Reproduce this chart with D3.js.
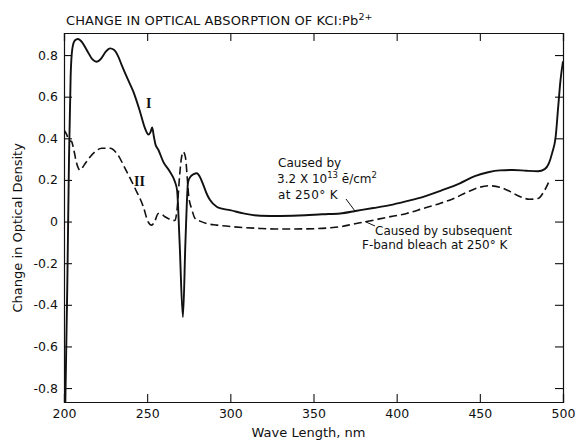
<!DOCTYPE html>
<html><head><meta charset="utf-8">
<script src="https://cdn.jsdelivr.net/npm/d3@7"></script>
<style>body{margin:0;background:#fff} svg{display:block}</style>
</head><body>
<svg id="c" width="577" height="442"></svg>
<script>
// Curve I (solid): caused by 3.2e13 e/cm2 at 250 K
const curveI_nm = [200.8,202,203,204,205,206.5,208.4,211,214,217,219.6,222,225,227.7,230,232.5,234.7,238,241.7,245.7,248.7,250.8,252,253,254,255,256.7,259.7,263.7,266.7,268,269.5,271.5,273,274.6,276,278,279.8,282,283.8,286,287.8,291.8,295,299.8,307.8,318,330,345,355,366,376,386,396,406,416,427,438,447,455,462,470,478,485,489,491.5,493.5,495.6,497,498.5,500];
const curveI_od = [-0.87,-0.3,0.3,0.7,0.83,0.87,0.877,0.86,0.82,0.78,0.768,0.78,0.815,0.832,0.825,0.795,0.752,0.69,0.624,0.528,0.448,0.418,0.43,0.452,0.41,0.37,0.345,0.287,0.239,0.191,0.15,-0.1,-0.46,-0.1,0.19,0.215,0.228,0.232,0.21,0.175,0.13,0.103,0.071,0.062,0.055,0.039,0.028,0.027,0.03,0.035,0.039,0.052,0.065,0.079,0.098,0.119,0.15,0.184,0.218,0.237,0.246,0.248,0.244,0.242,0.252,0.28,0.33,0.408,0.54,0.68,0.77];
// Curve II (dashed): after subsequent F-band bleach at 250 K
const curveII_nm = [200,201.5,203,204.5,206,207.6,209.6,212,214.6,218.6,222.7,227.7,231.7,236.7,242.7,247.7,250.5,252.7,254.5,256.7,258.7,260.7,264,266.7,268,269.5,270.5,271.7,273,274.2,275,276.8,278.8,281.8,286,291.8,301.8,317.9,330,346,360,366,374,382,394,406,416,426,434,442,450,456,462,468,474,480,485,489,492];
const curveII_od = [0.44,0.42,0.39,0.385,0.34,0.28,0.247,0.27,0.3,0.335,0.352,0.352,0.328,0.256,0.16,0.071,0.0,-0.017,0.0,0.039,0.035,0.023,0.01,0.005,0.06,0.22,0.3,0.335,0.31,0.2,0.12,0.06,0.015,0.002,-0.01,-0.017,-0.025,-0.033,-0.036,-0.035,-0.03,-0.025,-0.012,0.0,0.02,0.039,0.063,0.087,0.11,0.14,0.165,0.172,0.165,0.145,0.12,0.107,0.111,0.151,0.2];
const xTicks = [200,250,300,350,400,450,500];
const yTicks = [0.8,0.6,0.4,0.2,0,-0.2,-0.4,-0.6,-0.8];
const yTickLabels = ["0.8","0.6","0.4","0.2","0","-0.2","-0.4","-0.6","-0.8"];

const FONT = "'DejaVu Sans', sans-serif";
const ink = "#111";
const svg = d3.select("#c");
const L = 64, R = 563, T = 33, B = 402;
const x = d3.scaleLinear().domain([200,500]).range([L,R]);
const y = d3.scaleLinear().domain([-0.867,0.906]).range([B,T]);

svg.append("rect").attr("width",577).attr("height",442).attr("fill","#fff");

// title
const title = svg.append("text").attr("x",66).attr("y",25).attr("font-family",FONT)
  .attr("font-size",13).attr("fill",ink).attr("letter-spacing",0.1);
title.append("tspan").text("CHANGE IN OPTICAL ABSORPTION OF KCI:Pb");
title.append("tspan").attr("dy",-5).attr("font-size",9.5).text("2+");

// clip
svg.append("clipPath").attr("id","clip").append("rect").attr("x",L).attr("y",T).attr("width",R-L).attr("height",B-T);

// axes with inward ticks
const tl = 8;
const gB = svg.append("g").attr("transform",`translate(0,${B})`)
  .call(d3.axisBottom(x).tickValues(xTicks).tickSize(-tl).tickPadding(7).tickFormat(d3.format("d")));
const gT = svg.append("g").attr("transform",`translate(0,${T})`)
  .call(d3.axisTop(x).tickValues(xTicks).tickSize(-tl).tickFormat(""));
const gL = svg.append("g").attr("transform",`translate(${L},0)`)
  .call(d3.axisLeft(y).tickValues(yTicks).tickSize(-tl).tickPadding(6).tickFormat((d,i)=>yTickLabels[i]));
const gR = svg.append("g").attr("transform",`translate(${R},0)`)
  .call(d3.axisRight(y).tickValues(yTicks).tickSize(-tl).tickFormat(""));
[gB,gT,gL,gR].forEach(g=>{
  g.select(".domain").attr("stroke",ink).attr("stroke-width",1.2);
  g.selectAll(".tick line").attr("stroke",ink).attr("stroke-width",1.1);
  g.selectAll(".tick text").attr("font-family",FONT).attr("font-size",12.5).attr("fill",ink);
});

// axis labels
svg.append("text").attr("x",x(347)).attr("y",437).attr("text-anchor","middle")
  .attr("font-family",FONT).attr("font-size",13).attr("fill",ink).text("Wave Length, nm");
svg.append("text").attr("transform",`translate(22,${y(-0.03)}) rotate(-90)`).attr("text-anchor","middle")
  .attr("font-family",FONT).attr("font-size",13).attr("fill",ink).text("Change in Optical Density");

// curves
const line = d3.line().x(d=>x(d[0])).y(d=>y(d[1])).curve(d3.curveMonotoneX);
const dI = curveI_nm.map((v,i)=>[v,curveI_od[i]]);
const dII = curveII_nm.map((v,i)=>[v,curveII_od[i]]);
const gc = svg.append("g").attr("clip-path","url(#clip)");
gc.append("path").attr("d",line(dII)).attr("fill","none").attr("stroke",ink)
  .attr("stroke-width",1.6).attr("stroke-dasharray","8,4");
gc.append("path").attr("d",line(dI)).attr("fill","none").attr("stroke",ink).attr("stroke-width",1.9);

// roman numeral labels
svg.append("text").attr("x",146).attr("y",108).attr("font-family","'Liberation Serif', serif")
  .attr("font-size",14).attr("font-weight","bold").attr("fill",ink).text("I");
svg.append("text").attr("x",134).attr("y",186).attr("font-family","'Liberation Serif', serif")
  .attr("font-size",14).attr("font-weight","bold").attr("fill",ink).text("II");

// annotation 1
const a1 = svg.append("g").attr("font-family",FONT).attr("font-size",12).attr("fill",ink);
a1.append("text").attr("x",278).attr("y",167).text("Caused by");
const t2 = a1.append("text").attr("x",277).attr("y",183);
t2.append("tspan").text("3.2 X 10");
t2.append("tspan").attr("dy",-5).attr("font-size",8.5).text("13");
t2.append("tspan").attr("dy",5).text(" ē/cm");
t2.append("tspan").attr("dy",-5).attr("font-size",8.5).text("2");
a1.append("text").attr("x",278).attr("y",199).attr("letter-spacing",0.4).text("at 250° K");
svg.append("line").attr("x1",346).attr("y1",199).attr("x2",x(375)).attr("y2",y(0.05))
  .attr("stroke",ink).attr("stroke-width",1);

// annotation 2
const a2 = svg.append("g").attr("font-family",FONT).attr("font-size",12).attr("fill",ink);
a2.append("text").attr("x",375).attr("y",235).text("Caused by subsequent");
a2.append("text").attr("x",362).attr("y",249).text("F-band bleach at 250° K");
svg.append("line").attr("x1",x(381)).attr("y1",y(0.0)).attr("x2",375).attr("y2",226)
  .attr("stroke",ink).attr("stroke-width",1);
</script>
</body></html>
